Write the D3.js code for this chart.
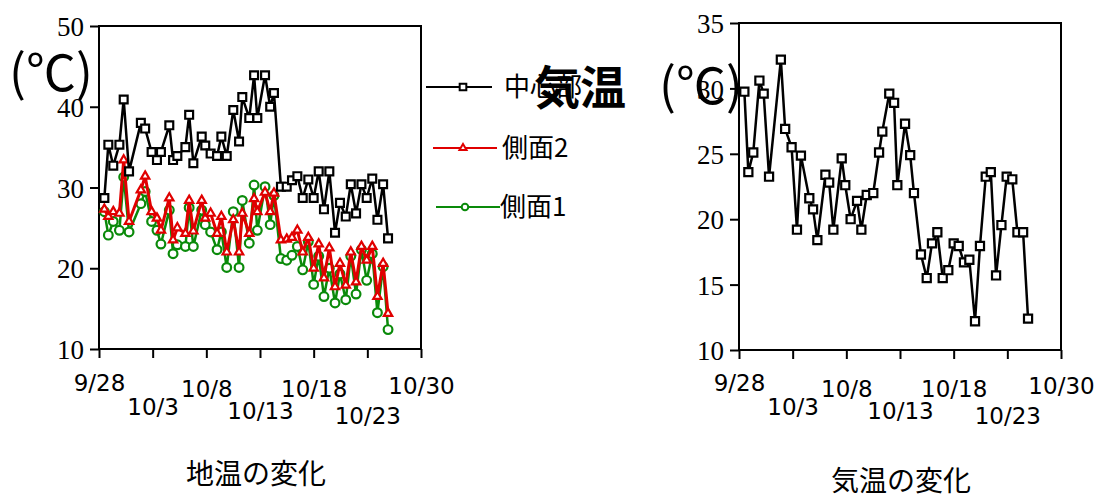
<!DOCTYPE html>
<html>
<head>
<meta charset="utf-8">
<script src="https://cdn.jsdelivr.net/npm/d3@7"></script>
<style>
  body { margin: 0; background: #fff; }
  svg text { font-family: "DejaVu Sans", sans-serif; }
  .jp { font-family: "Noto Sans CJK JP", sans-serif; }
</style>
</head>
<body>
<div id="chart"></div>
<script>
// date ticks (days after 9/28)
var dateTicks = [0, 5, 10, 15, 20, 25, 30];
var dateLabels = ["9/28", "10/3", "10/8", "10/13", "10/18", "10/23", "10/30"];

// measurement times, days after 9/28
var days = [0.5, 0.87, 1.33, 1.9, 2.3, 2.8, 3.9, 4.3, 4.9, 5.4,
            5.77, 6.55, 6.9, 7.3, 8.05, 8.4, 8.79, 9.57, 9.9, 10.4,
            11.0, 11.4, 11.9, 12.51, 13.05, 13.35, 14.0, 14.45, 14.75, 15.47,
            15.95, 16.3, 16.95, 17.49, 17.98, 18.48, 18.98, 19.5, 20.0, 20.47,
            20.96, 21.46, 21.99, 22.45, 22.99, 23.46, 23.95, 24.45, 24.94, 25.46,
            25.94, 26.47, 26.93];

// ground temperature
var center = [28.7, 35.3, 32.7, 35.3, 40.9, 32.0, 38.0, 37.3, 34.4, 33.4,
              34.4, 37.7, 33.4, 33.9, 35.0, 39.0, 33.0, 36.3, 35.2, 34.2,
              33.9, 36.3, 33.9, 39.6, 35.7, 41.2, 38.6, 43.9, 38.6, 43.9,
              40.0, 41.7, 30.1, 30.1, 30.9, 31.4, 28.7, 31.0, 28.7, 32.0,
              27.3, 32.0, 24.4, 28.1, 26.4, 30.4, 26.8, 30.4, 28.7, 31.1,
              26.0, 30.4, 23.7];
var side2 = [27.3, 26.4, 27.0, 26.8, 33.4, 25.8, 29.7, 31.4, 27.0, 26.2,
             24.7, 28.7, 23.5, 25.0, 24.3, 28.4, 24.6, 28.4, 26.2, 26.8,
             24.3, 26.4, 22.0, 26.0, 22.0, 26.8, 24.3, 28.6, 27.0, 29.4,
             27.0, 29.3, 23.5, 23.6, 23.8, 24.7, 22.0, 23.8, 20.0, 23.0,
             18.8, 22.5, 17.7, 20.6, 17.9, 22.0, 18.3, 22.7, 21.0, 22.7,
             16.5, 20.6, 14.4];
var side1 = [27.0, 24.1, 25.8, 24.7, 31.3, 24.5, 28.0, 29.5, 25.8, 24.7,
             23.0, 27.2, 21.8, 22.9, 22.7, 27.5, 22.7, 27.2, 25.4, 24.5,
             22.3, 24.5, 20.1, 27.0, 20.1, 28.4, 23.1, 30.3, 24.7, 30.1,
             25.4, 29.0, 21.2, 21.0, 21.6, 22.7, 19.8, 23.3, 18.0, 21.5,
             16.5, 20.0, 15.7, 19.3, 16.1, 21.5, 16.8, 22.3, 18.5, 21.8,
             14.5, 20.2, 12.4];

// air temperature
var airTemp = [29.75, 23.6, 25.1, 30.6, 29.6, 23.25, 32.2, 26.9, 25.5, 19.2,
               24.86, 21.6, 20.75, 18.4, 23.4, 22.8, 19.2, 24.65, 22.6, 20.0,
               21.4, 19.2, 21.85, 22.0, 25.1, 26.7, 29.6, 28.9, 22.6, 27.3,
               24.9, 22.0, 17.3, 15.5, 18.15, 19.0, 15.5, 16.1, 18.15, 17.95,
               16.7, 16.9, 12.2, 17.95, 23.25, 23.6, 15.7, 19.55, 23.25, 23.05,
               19.0, 19.0, 12.4];

var groundTicks = [10, 20, 30, 40, 50];
var airTicks = [10, 15, 20, 25, 30, 35];
var legendNames = ["中心部", "側面2", "側面1"];

var w = 1106, h = 499;
// label center heights for the staggered date labels
var labelY = [383, 407, 389, 411, 389, 416, 386];

var svg = d3.select("#chart").append("svg")
  .attr("width", w).attr("height", h);

function drawFrame(x, y, yTicks) {
  var x0 = x.range()[0], x1 = x.range()[1];
  var y0 = y.range()[0], y1 = y.range()[1];

  var ya = svg.append("g")
    .attr("transform", "translate(" + x0 + ",0)")
    .call(d3.axisLeft(y).tickValues(yTicks).tickSize(9).tickPadding(6).tickFormat(d3.format("d")));
  ya.select(".domain").remove();
  ya.selectAll("line").attr("stroke-width", 2);
  ya.selectAll("text")
    .attr("fill", "#000")
    .attr("dy", "0.36em")
    .style("font-family", "'Liberation Serif', serif")
    .style("font-size", "27px");

  var xa = svg.append("g")
    .attr("transform", "translate(0," + y0 + ")")
    .call(d3.axisBottom(x).tickValues(dateTicks).tickSize(9)
      .tickFormat(function(d, i){ return dateLabels[i]; }));
  xa.select(".domain").remove();
  xa.selectAll("line").attr("stroke-width", 2);
  xa.selectAll("text")
    .attr("fill", "#000")
    .style("font-family", "'DejaVu Sans', sans-serif")
    .style("font-size", "23px")
    .attr("dy", null)
    .attr("y", function(d, i){ return labelY[i] + 8 - y0; });

  svg.append("rect")
    .attr("x", x0).attr("y", y1)
    .attr("width", x1 - x0).attr("height", y0 - y1)
    .attr("fill", "none").attr("stroke", "#000").attr("stroke-width", 2);
}

function drawSeries(x, y, values, color, shape, size, lw) {
  var line = d3.line()
    .x(function(d, i){ return x(days[i]); })
    .y(function(d){ return y(d); });
  svg.append("path")
    .datum(values)
    .attr("d", line)
    .attr("fill", "none")
    .attr("stroke", color)
    .attr("stroke-width", lw)
    .attr("stroke-linejoin", "round");
  svg.append("g").selectAll("path")
    .data(values)
    .enter().append("path")
    .attr("d", d3.symbol().type(shape).size(size))
    .attr("transform", function(d, i){ return "translate(" + x(days[i]) + "," + y(d) + ")"; })
    .attr("fill", "#fff")
    .attr("stroke", color)
    .attr("stroke-width", 2.2);
}

// ---- ground temperature chart
var xG = d3.scaleLinear().domain([0, 30]).range([99, 421]);
var yG = d3.scaleLinear().domain([10, 50]).range([349, 26]);
drawFrame(xG, yG, groundTicks);
drawSeries(xG, yG, side1, "#0a8a0a", d3.symbolCircle, 60, 2.5);
drawSeries(xG, yG, side2, "#e00000", d3.symbolTriangle, 30, 3);
drawSeries(xG, yG, center, "#000", d3.symbolSquare, 62, 2.5);

// ---- air temperature chart
var xA = d3.scaleLinear().domain([0, 30]).range([739, 1061]);
var yA = d3.scaleLinear().domain([10, 35]).range([350, 23]);
drawFrame(xA, yA, airTicks);
drawSeries(xA, yA, airTemp, "#000", d3.symbolSquare, 66, 2.5);

// ---- legend
var legend = [
  {y: 87,  x0: 426, x1: 492, mx: 463, color: "#000",    shape: d3.symbolSquare,   size: 44, tx: 504},
  {y: 148, x0: 433, x1: 497, mx: 463, color: "#e00000", shape: d3.symbolTriangle, size: 22, tx: 502},
  {y: 207, x0: 436, x1: 500, mx: 465, color: "#0a8a0a", shape: d3.symbolCircle,   size: 34, tx: 500}
];
legend.forEach(function(l, i){
  svg.append("line")
    .attr("x1", l.x0).attr("x2", l.x1).attr("y1", l.y).attr("y2", l.y)
    .attr("stroke", l.color).attr("stroke-width", 2);
  svg.append("path")
    .attr("d", d3.symbol().type(l.shape).size(l.size))
    .attr("transform", "translate(" + l.mx + "," + l.y + ")")
    .attr("fill", "#fff").attr("stroke", l.color).attr("stroke-width", 2);
  svg.append("text")
    .attr("class", "jp")
    .attr("x", l.tx).attr("y", l.y)
    .attr("dy", "0.36em")
    .style("font-size", "26px")
    .text(legendNames[i]);
});

// ---- axis unit labels
svg.append("text").attr("class", "jp")
  .attr("x", 9).attr("y", 91)
  .style("font-size", "50px")
  .text("(℃)");
svg.append("text").attr("class", "jp")
  .attr("x", 534).attr("y", 104)
  .style("font-size", "46px").style("font-weight", "bold")
  .text("気温");
svg.append("text").attr("class", "jp")
  .attr("x", 659).attr("y", 104)
  .style("font-size", "50px")
  .text("(℃)");

// ---- titles
svg.append("text").attr("class", "jp")
  .attr("x", 256).attr("y", 484)
  .attr("text-anchor", "middle")
  .style("font-size", "28px")
  .text("地温の変化");
svg.append("text").attr("class", "jp")
  .attr("x", 901).attr("y", 491)
  .attr("text-anchor", "middle")
  .style("font-size", "28px")
  .text("気温の変化");
</script>
</body>
</html>
